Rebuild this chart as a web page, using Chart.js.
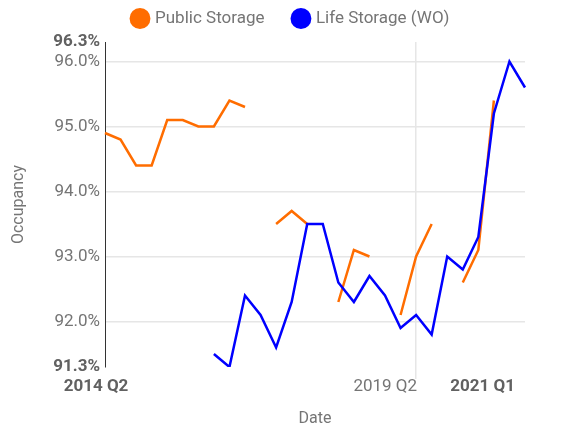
<!DOCTYPE html>
<html>
<head>
<meta charset="utf-8">
<script src="https://cdn.jsdelivr.net/npm/chart.js@4"></script>
<style>
  html, body { margin: 0; padding: 0; background: #fff; }
  #wrap { width: 566px; height: 431px; position: relative; }
</style>
</head>
<body>
<div id="wrap"><canvas id="chart"></canvas></div>
<script>
// quarters from 2014 Q2 to 2021 Q1
const quarters = [
  '2014 Q2', '2014 Q3', '2014 Q4', '2015 Q1', '2015 Q2', '2015 Q3', '2015 Q4',
  '2016 Q1', '2016 Q2', '2016 Q3', '2016 Q4', '2017 Q1', '2017 Q2', '2017 Q3',
  '2017 Q4', '2018 Q1', '2018 Q2', '2018 Q3', '2018 Q4', '2019 Q1', '2019 Q2',
  '2019 Q3', '2019 Q4', '2020 Q1', '2020 Q2', '2020 Q3', '2020 Q4', '2021 Q1'
];
const publicStorage = [
  94.9, 94.8, 94.4, 94.4, 95.1, 95.1, 95.0, 95.0, 95.4, 95.3, null, 93.5, 93.7, 93.5,
  null, 92.3, 93.1, 93.0, null, 92.1, 93.0, 93.5, null, 92.6, 93.1, 95.4, null, null
];
const lifeStorage = [
  null, null, null, null, null, null, null, 91.5, 91.3, 92.4, 92.1, 91.6, 92.3, 93.5,
  93.5, 92.6, 92.3, 92.7, 92.4, 91.9, 92.1, 91.8, 93.0, 92.8, 93.3, 95.2, 96.0, 95.6
];
const yTicks = [91.3, 92, 93, 94, 95, 96, 96.3];
const xTickLabels = ['2014 Q2', '2019 Q2', '2021 Q1'];

const gray = '#757575';
const darkGray = '#616161';

// draws the few x labels the way the original spreads them out
const xLabelPlugin = {
    id: 'xLabels',
    afterLayout(chart) {
        // pull the legend up a bit, leaves more room above the plot
        chart.legend.top -= 5;
        chart.legend.bottom -= 5;
    },
    afterDraw(chart) {
        const ctx = chart.ctx;
        const x = chart.scales.x;
        const y = chart.chartArea.bottom + 20;
        ctx.save();
        ctx.textBaseline = 'middle';
        xTickLabels.forEach((lbl, i) => {
            const px = x.getPixelForValue(quarters.indexOf(lbl));
            const bold = i !== 1;
            ctx.font = (bold ? 'bold ' : '') + '17px Roboto';
            ctx.fillStyle = bold ? darkGray : gray;
            if (i === 0) {
                ctx.textAlign = 'center';
                ctx.fillText(lbl, px - 9, y);
            } else if (i === 1) {
                ctx.textAlign = 'right';
                ctx.fillText(lbl, px + 1, y);
            } else {
                ctx.textAlign = 'right';
                ctx.fillText(lbl, px - 10, y);
            }
        });
        ctx.restore();
    }
};

const ctx = document.getElementById('chart').getContext('2d');
new Chart(ctx, {
    type: 'line',
    data: {
        labels: quarters,
        datasets: [{
            label: 'Public Storage',
            data: publicStorage,
            borderColor: '#ff6d00',
            backgroundColor: '#ff6d00',
            borderWidth: 2.5,
            pointRadius: 0,
            order: 1
        }, {
            label: 'Life Storage (WO)',
            data: lifeStorage,
            borderColor: '#0000ff',
            backgroundColor: '#0000ff',
            borderWidth: 2.5,
            pointRadius: 0,
            order: 0
        }]
    },
    options: {
        responsive: true,
        maintainAspectRatio: false,
        animation: false,
        layout: { padding: { left: 17, right: 0, top: -15, bottom: 0 } },
        plugins: {
            legend: {
                position: 'top',
                labels: {
                    usePointStyle: true,
                    pointStyle: 'circle',
                    boxWidth: 13,
                    boxHeight: 13,
                    padding: 30,
                    color: gray,
                    font: { family: 'Roboto', size: 17 },
                    sort: (a, b) => a.datasetIndex - b.datasetIndex
                }
            },
            tooltip: { enabled: false }
        },
        scales: {
            x: {
                ticks: { display: false, autoSkip: false },
                grid: {
                    color: c => c.index === quarters.indexOf('2019 Q2') ? '#e6e6e6' : 'rgba(0,0,0,0)',
                    lineWidth: 1.5,
                    tickLength: 12
                },
                border: { display: false },
                title: {
                    display: true,
                    text: 'Date',
                    color: gray,
                    font: { family: 'Roboto', size: 16 },
                    padding: { top: 0, bottom: 2 }
                },
                afterFit: s => { s.height = 64; }
            },
            y: {
                min: 91.3,
                max: 96.3,
                afterBuildTicks: s => { s.ticks = yTicks.map(v => ({ value: v })); },
                ticks: {
                    autoSkip: false,
                    padding: 5,
                    callback: v => v.toFixed(1) + '%',
                    color: c => (c.index === 0 || c.index === yTicks.length - 1) ? darkGray : gray,
                    font: c => ({
                        family: 'Roboto',
                        size: 17,
                        weight: (c.index === 0 || c.index === yTicks.length - 1) ? 'bold' : 'normal'
                    })
                },
                grid: {
                    drawTicks: false,
                    color: c => (c.index === 0 || c.index === yTicks.length - 1) ? 'rgba(0,0,0,0)' : '#e6e6e6',
                    lineWidth: 1.5
                },
                border: { display: true, color: '#333', width: 1 },
                title: {
                    display: true,
                    text: 'Occupancy',
                    color: gray,
                    font: { family: 'Roboto', size: 16 },
                    padding: { top: -8, bottom: 0 }
                },
                afterFit: s => { s.width = 88; }
            },
            yRight: {
                position: 'right',
                ticks: { display: false },
                grid: { display: false },
                border: { display: false },
                afterFit: s => { s.width = 41; }
            }
        }
    },
    plugins: [xLabelPlugin]
});
</script>
</body>
</html>
